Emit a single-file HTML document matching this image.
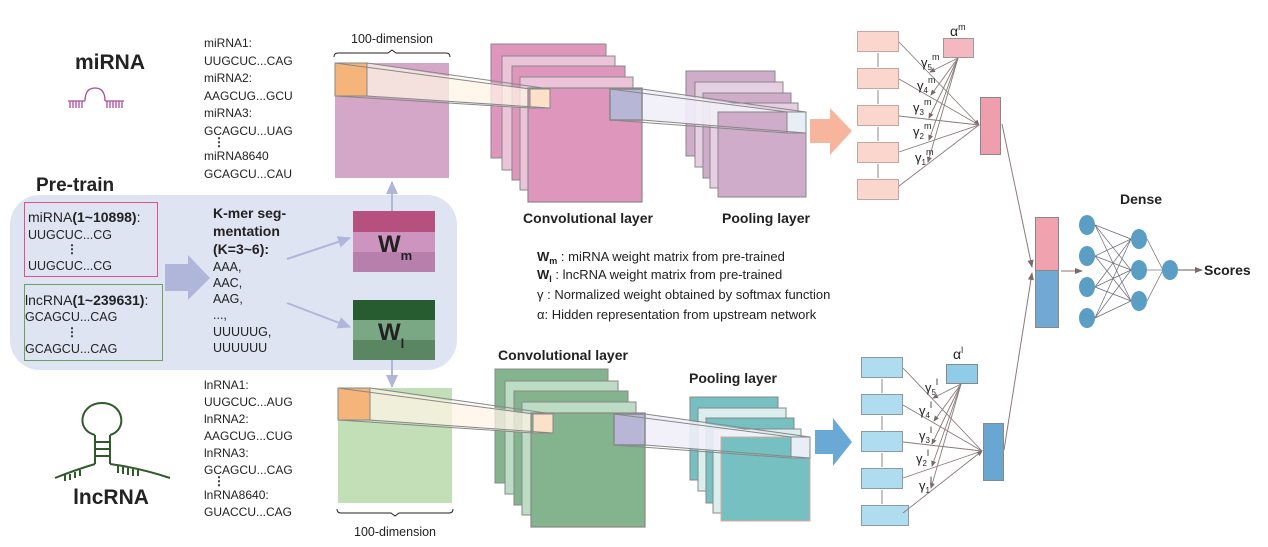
<!DOCTYPE html>
<html><head><meta charset="utf-8"><style>
html,body{margin:0;padding:0;background:#fff}
svg{display:block}
text{font-family:"Liberation Sans",Arial,sans-serif;fill:#222}
</style></head><body>
<svg width="1268" height="547" viewBox="0 0 1268 547" xmlns="http://www.w3.org/2000/svg">
<defs>
<marker id="ah" markerWidth="8" markerHeight="8" refX="7" refY="4" orient="auto" markerUnits="userSpaceOnUse"><path d="M0,1 L8,4 L0,7 z" fill="#7a6a6a"/></marker>
<marker id="ahs" markerWidth="6" markerHeight="6" refX="5" refY="3" orient="auto" markerUnits="userSpaceOnUse"><path d="M0,0.5 L6,3 L0,5.5 z" fill="#7a6a6a"/></marker>
<marker id="ab" markerWidth="14" markerHeight="14" refX="12" refY="7" orient="auto" markerUnits="userSpaceOnUse"><path d="M0,1 L13,7 L0,13 z" fill="#b0b6da"/></marker>
</defs>

<!-- miRNA title and icon -->
<text x="110" y="69" font-size="21" font-weight="bold" text-anchor="middle">miRNA</text>
<g stroke="#b04a9a" stroke-width="1.3" fill="none">
<path d="M68,101 H85 M105,101 H124"/>
<path d="M85,101 Q85,88 95,88 Q105,88 105,101"/>
<path d="M70,101v7 M73,101v7 M76,101v7 M79,101v7 M82,101v7 M107,101v7 M110,101v7 M113,101v7 M116,101v7 M119,101v7 M122,101v7"/>
</g>

<!-- sequence lists -->
<g font-size="12">
<text x="204" y="47">miRNA1:</text><text x="204" y="65">UUGCUC...CAG</text>
<text x="204" y="82">miRNA2:</text><text x="204" y="100">AAGCUG...GCU</text>
<text x="204" y="117">miRNA3:</text><text x="204" y="135">GCAGCU...UAG</text>
<text x="213" y="146" font-weight="bold">⋮</text>
<text x="204" y="160">miRNA8640</text><text x="204" y="178">GCAGCU...CAU</text>
<text x="204" y="389">lnRNA1:</text><text x="204" y="406">UUGCUC...AUG</text>
<text x="204" y="423">lnRNA2:</text><text x="204" y="440">AAGCUG...CUG</text>
<text x="204" y="457">lnRNA3:</text><text x="204" y="474">GCAGCU...CAG</text>
<text x="213" y="485" font-weight="bold">⋮</text>
<text x="204" y="499">lnRNA8640:</text><text x="204" y="516">GUACCU...CAG</text>
</g>

<!-- Pre-train panel -->
<text x="36" y="191" font-size="19" font-weight="bold">Pre-train</text>
<rect x="10" y="195" width="447" height="175" rx="30" fill="#dfe4f2"/>
<rect x="24.5" y="202.5" width="133" height="74" fill="none" stroke="#e0508a" stroke-width="1"/>
<rect x="24.5" y="284.5" width="138" height="76" fill="none" stroke="#6aa060" stroke-width="1"/>
<g font-size="14">
<text x="28" y="222">miRNA<tspan font-weight="bold">(1~10898)</tspan>:</text>
<text x="28" y="239" font-size="12.5">UUGCUC...CG</text>
<text x="66" y="253" font-weight="bold" font-size="12">⋮</text>
<text x="28" y="270" font-size="12.5">UUGCUC...CG</text>
<text x="25" y="305">lncRNA<tspan font-weight="bold">(1~239631)</tspan>:</text>
<text x="25" y="321" font-size="12.5">GCAGCU...CAG</text>
<text x="66" y="336" font-weight="bold" font-size="12">⋮</text>
<text x="25" y="353" font-size="12.5">GCAGCU...CAG</text>
</g>
<polygon points="165,264 188,264 188,255 210,278 188,300 188,291 165,291" fill="#b0b6da"/>
<g font-size="14" font-weight="bold">
<text x="213" y="218">K-mer seg-</text>
<text x="213" y="236">mentation</text>
<text x="213" y="254">(K=3~6):</text>
</g>
<g font-size="12.5">
<text x="213" y="271">AAA,</text><text x="213" y="287">AAC,</text><text x="213" y="303">AAG,</text>
<text x="213" y="319">...,</text><text x="213" y="336">UUUUUG,</text><text x="213" y="352">UUUUUU</text>
</g>
<line x1="287" y1="259" x2="350" y2="238" stroke="#b0b6da" stroke-width="2" marker-end="url(#ab)"/>
<line x1="287" y1="303" x2="350" y2="327" stroke="#b0b6da" stroke-width="2" marker-end="url(#ab)"/>
<rect x="353" y="211" width="82" height="21" fill="#b5507f"/>
<rect x="353" y="232" width="82" height="20" fill="#cd94bf"/>
<rect x="353" y="252" width="82" height="20" fill="#b77fac"/>
<text x="378" y="252" font-size="24" font-weight="bold" fill="#111">W<tspan font-size="13" dy="8">m</tspan></text>
<rect x="353" y="300" width="82" height="20" fill="#265c30"/>
<rect x="353" y="320" width="82" height="20" fill="#7aa884"/>
<rect x="353" y="340" width="82" height="20" fill="#5a8662"/>
<text x="378" y="340" font-size="24" font-weight="bold" fill="#111">W<tspan font-size="13" dy="8">l</tspan></text>
<line x1="392" y1="211" x2="392" y2="182" stroke="#b0b6da" stroke-width="2" marker-end="url(#ab)"/>
<line x1="392" y1="360" x2="392" y2="387" stroke="#b0b6da" stroke-width="2" marker-end="url(#ab)"/>

<!-- top embedding -->
<text x="392" y="43" font-size="12.5" text-anchor="middle">100-dimension</text>
<path d="M334,57 Q334,53 338,53 H388 L392,50 L396,53 H446 Q450,53 450,57" fill="none" stroke="#222" stroke-width="1"/>
<rect x="335" y="63" width="114" height="115" fill="#d4a6c8"/>
<!-- top conv -->
<rect x="491" y="44" width="115" height="114" fill="#df96bd" stroke="#888"/>
<rect x="502" y="56" width="113" height="114" fill="#ecc4da" stroke="#888"/>
<rect x="512" y="66" width="113" height="114" fill="#df96bd" stroke="#888"/>
<rect x="520" y="77" width="113" height="113" fill="#ecc4da" stroke="#888"/>
<polygon points="367,63 530,89 530,108 367,96" fill="#fff4e6" opacity="0.75"/>
<rect x="528" y="88" width="114" height="114" fill="#df96bd" stroke="#888" stroke-width="1.2"/>
<rect x="335" y="63" width="32" height="33" fill="#f4b47a" stroke="#888"/>
<rect x="530" y="89" width="20" height="19" fill="#fde0c8" stroke="#888"/>
<g stroke="#888" fill="none"><line x1="335" y1="63" x2="530" y2="89"/><line x1="367" y1="63" x2="550" y2="89"/><line x1="335" y1="96" x2="530" y2="108"/><line x1="367" y1="96" x2="550" y2="108"/></g>
<!-- top pool -->
<rect x="686" y="71" width="89" height="85" fill="#cfacca" stroke="#888"/>
<rect x="695" y="82" width="88" height="85" fill="#e6cfe2" stroke="#888"/>
<rect x="703" y="93" width="88" height="85" fill="#cfacca" stroke="#888"/>
<rect x="710" y="103" width="88" height="85" fill="#e6cfe2" stroke="#888"/>
<polygon points="642,89 787,112 787,133 642,120" fill="#f1eff8" opacity="0.9"/>
<rect x="718" y="112" width="88" height="85" fill="#cfacca" stroke="#888"/>
<rect x="610" y="89" width="32" height="31" fill="#b7b6d6" stroke="#888" stroke-width="1.5"/>
<rect x="787" y="112" width="19" height="21" fill="#e8eef6" stroke="#888"/>
<g stroke="#888" fill="none"><line x1="610" y1="89" x2="787" y2="112"/><line x1="642" y1="89" x2="806" y2="112"/><line x1="610" y1="120" x2="787" y2="133"/><line x1="642" y1="120" x2="806" y2="133"/></g>
<text x="588" y="223" font-size="14" font-weight="bold" text-anchor="middle">Convolutional layer</text>
<text x="766" y="223" font-size="14" font-weight="bold" text-anchor="middle">Pooling layer</text>
<polygon points="810,119 830,119 830,108 852,131 830,155 830,143 810,143" fill="#f8b59e"/>

<!-- bottom embedding -->
<rect x="338" y="388" width="114" height="115" fill="#c2dfb8"/>
<path d="M337,509 Q337,513 341,513 H391 L395,516 L399,513 H449 Q453,513 453,509" fill="none" stroke="#222" stroke-width="1"/>
<text x="395" y="536" font-size="12.5" text-anchor="middle">100-dimension</text>
<rect x="495" y="369" width="113" height="114" fill="#84b48e" stroke="#888"/>
<rect x="505" y="381" width="113" height="113" fill="#bcdcc4" stroke="#888"/>
<rect x="514" y="391" width="114" height="114" fill="#84b48e" stroke="#888"/>
<rect x="522" y="402" width="114" height="113" fill="#bcdcc4" stroke="#888"/>
<polygon points="370,388 533,414 533,433 370,420" fill="#fff4e6" opacity="0.75"/>
<rect x="531" y="413" width="114" height="114" fill="#84b48e" stroke="#888" stroke-width="1.2"/>
<rect x="338" y="388" width="32" height="32" fill="#f4b47a" stroke="#888"/>
<rect x="533" y="414" width="20" height="19" fill="#fde0c8" stroke="#888"/>
<g stroke="#888" fill="none"><line x1="338" y1="388" x2="533" y2="414"/><line x1="370" y1="388" x2="553" y2="414"/><line x1="338" y1="420" x2="533" y2="433"/><line x1="370" y1="420" x2="553" y2="433"/></g>
<rect x="690" y="397" width="88" height="83" fill="#76c0c2" stroke="#888"/>
<rect x="698" y="408" width="88" height="83" fill="#dbeeee" stroke="#888"/>
<rect x="706" y="418" width="88" height="85" fill="#76c0c2" stroke="#888"/>
<rect x="713" y="429" width="88" height="84" fill="#dbeeee" stroke="#888"/>
<polygon points="645,414 791,437 791,458 645,445" fill="#f1eff8" opacity="0.9"/>
<rect x="721" y="437" width="89" height="84" fill="#76c0c2" stroke="#d9a89a"/>
<rect x="614" y="414" width="31" height="31" fill="#b7b6d6" stroke="#888" stroke-width="1.5"/>
<rect x="791" y="437" width="19" height="21" fill="#e8eef6" stroke="#888"/>
<g stroke="#888" fill="none"><line x1="614" y1="414" x2="791" y2="437"/><line x1="645" y1="414" x2="810" y2="437"/><line x1="614" y1="445" x2="791" y2="458"/><line x1="645" y1="445" x2="810" y2="458"/></g>
<text x="563" y="360" font-size="14" font-weight="bold" text-anchor="middle">Convolutional layer</text>
<text x="733" y="383" font-size="14" font-weight="bold" text-anchor="middle">Pooling layer</text>
<polygon points="815,430 833,430 833,418 852,442 833,466 833,454 815,454" fill="#6aa9d6"/>

<!-- lncRNA icon -->
<g stroke="#2f5a2a" stroke-width="2" fill="none">
<path d="M95,435 C75,430 80,403 102,403 C124,403 128,430 110,435"/>
<path d="M95,435 V464 M110,435 V464 M95,442 H110 M95,449 H110 M95,456 H110"/>
<path d="M55,478 Q75,470 95,464 M110,464 Q140,468 170,478"/>
<path d="M65,475v6 M70,474v6 M75,472v6 M80,470v6 M118,466v7 M123,467v7 M128,468v7 M133,469v7 M138,470v6"/>
</g>
<text x="111" y="504" font-size="21" font-weight="bold" text-anchor="middle">lncRNA</text>

<!-- legend -->
<g font-size="13">
<text x="537" y="261"><tspan font-weight="bold">W</tspan><tspan font-size="9" dy="3" font-weight="bold">m</tspan><tspan dy="-3"> : miRNA weight matrix from pre-trained</tspan></text>
<text x="537" y="279"><tspan font-weight="bold">W</tspan><tspan font-size="9" dy="3" font-weight="bold">l</tspan><tspan dy="-3"> : lncRNA weight matrix from pre-trained</tspan></text>
<text x="537" y="299">γ : Normalized weight obtained by softmax function</text>
<text x="537" y="319">α: Hidden representation from upstream network</text>
</g>

<!-- top attention -->
<g fill="#fbd6cc" stroke="#c8a6a0">
<rect x="857.5" y="31.5" width="41" height="20"/><rect x="857.5" y="68.5" width="41" height="20"/>
<rect x="857.5" y="105.5" width="41" height="20"/><rect x="857.5" y="142.5" width="41" height="20"/>
<rect x="857.5" y="179.5" width="41" height="20"/>
</g>
<rect x="943.5" y="38.5" width="30" height="19" fill="#f5b8c0" stroke="#999"/>
<rect x="980.5" y="97.5" width="20" height="57" fill="#ee9eac" stroke="#888"/>
<text x="950" y="36" font-size="14">α<tspan font-size="9" dy="-6">m</tspan></text>
<g stroke="#8a7a7a" stroke-width="0.9" fill="none">
<path d="M878,53v14 M878,90v14 M878,127v14 M878,164v14"/>
<line x1="899" y1="42" x2="979" y2="125" marker-end="url(#ahs)"/>
<line x1="899" y1="79" x2="979" y2="125"/>
<line x1="899" y1="116" x2="979" y2="125"/>
<line x1="899" y1="152" x2="979" y2="125"/>
<line x1="899" y1="186" x2="979" y2="125"/>
<line x1="958" y1="58" x2="930" y2="72" marker-end="url(#ahs)"/>
<line x1="958" y1="58" x2="931" y2="95" marker-end="url(#ahs)"/>
<line x1="958" y1="58" x2="929" y2="118" marker-end="url(#ahs)"/>
<line x1="958" y1="58" x2="929" y2="140" marker-end="url(#ahs)"/>
<line x1="958" y1="58" x2="928" y2="162" marker-end="url(#ahs)"/>
</g>
<g font-size="13" font-family="Liberation Serif">
<text x="921" y="67">γ<tspan font-size="8" dy="3">5</tspan><tspan font-size="9" dy="-10">m</tspan></text>
<text x="917" y="90">γ<tspan font-size="8" dy="3">4</tspan><tspan font-size="9" dy="-10">m</tspan></text>
<text x="913" y="112">γ<tspan font-size="8" dy="3">3</tspan><tspan font-size="9" dy="-10">m</tspan></text>
<text x="913" y="136">γ<tspan font-size="8" dy="3">2</tspan><tspan font-size="9" dy="-10">m</tspan></text>
<text x="915" y="162">γ<tspan font-size="8" dy="3">1</tspan><tspan font-size="9" dy="-10">m</tspan></text>
</g>

<!-- bottom attention -->
<g fill="#b0dcf0" stroke="#8a9aa6">
<rect x="861.5" y="357.5" width="41" height="20"/><rect x="861.5" y="394.5" width="41" height="20"/>
<rect x="861.5" y="431.5" width="41" height="20"/><rect x="861.5" y="468.5" width="41" height="20"/>
<rect x="861.5" y="505.5" width="47" height="20"/>
</g>
<rect x="946.5" y="364.5" width="31" height="19" fill="#8ecce8" stroke="#888"/>
<rect x="983.5" y="423.5" width="20" height="57" fill="#6aa6d2" stroke="#888"/>
<text x="953" y="359" font-size="14">α<tspan font-size="9" dy="-6">l</tspan></text>
<g stroke="#8a7a7a" stroke-width="0.9" fill="none">
<path d="M882,379v14 M882,416v14 M882,453v14 M882,490v14"/>
<line x1="903" y1="368" x2="982" y2="451"/>
<line x1="903" y1="405" x2="982" y2="451"/>
<line x1="903" y1="442" x2="982" y2="451"/>
<line x1="903" y1="478" x2="982" y2="451"/>
<line x1="903" y1="513" x2="982" y2="451" marker-end="url(#ahs)"/>
<line x1="961" y1="384" x2="933" y2="398" marker-end="url(#ahs)"/>
<line x1="961" y1="384" x2="934" y2="421" marker-end="url(#ahs)"/>
<line x1="961" y1="384" x2="932" y2="444" marker-end="url(#ahs)"/>
<line x1="961" y1="384" x2="932" y2="466" marker-end="url(#ahs)"/>
<line x1="961" y1="384" x2="931" y2="488" marker-end="url(#ahs)"/>
</g>
<g font-size="13" font-family="Liberation Serif">
<text x="925" y="392">γ<tspan font-size="8" dy="3">5</tspan><tspan font-size="9" dy="-10">l</tspan></text>
<text x="919" y="415">γ<tspan font-size="8" dy="3">4</tspan><tspan font-size="9" dy="-10">l</tspan></text>
<text x="919" y="440">γ<tspan font-size="8" dy="3">3</tspan><tspan font-size="9" dy="-10">l</tspan></text>
<text x="916" y="463">γ<tspan font-size="8" dy="3">2</tspan><tspan font-size="9" dy="-10">l</tspan></text>
<text x="919" y="490">γ<tspan font-size="8" dy="3">1</tspan><tspan font-size="9" dy="-10">l</tspan></text>
</g>

<!-- concat -->
<line x1="1002" y1="124" x2="1032" y2="267" stroke="#8a7a7a" stroke-width="1" marker-end="url(#ah)"/>
<line x1="1004" y1="450" x2="1032" y2="273" stroke="#8a7a7a" stroke-width="1" marker-end="url(#ah)"/>
<rect x="1035.5" y="217.5" width="23" height="53" fill="#f0a2ae" stroke="#888"/>
<rect x="1035.5" y="270.5" width="23" height="57" fill="#72a8d4" stroke="#888"/>
<line x1="1061" y1="271" x2="1082" y2="271" stroke="#8a7a7a" stroke-width="1" marker-end="url(#ah)"/>

<!-- dense -->
<text x="1120" y="204" font-size="14" font-weight="bold">Dense</text>
<g stroke="#6a6a7a" stroke-width="0.7">
<line x1="1095" y1="225" x2="1131" y2="239"/><line x1="1095" y1="225" x2="1131" y2="270"/><line x1="1095" y1="225" x2="1131" y2="301"/>
<line x1="1095" y1="256" x2="1131" y2="239"/><line x1="1095" y1="256" x2="1131" y2="270"/><line x1="1095" y1="256" x2="1131" y2="301"/>
<line x1="1095" y1="287" x2="1131" y2="239"/><line x1="1095" y1="287" x2="1131" y2="270"/><line x1="1095" y1="287" x2="1131" y2="301"/>
<line x1="1095" y1="318" x2="1131" y2="239"/><line x1="1095" y1="318" x2="1131" y2="270"/><line x1="1095" y1="318" x2="1131" y2="301"/>
<line x1="1147" y1="239" x2="1163" y2="270"/><line x1="1147" y1="270" x2="1163" y2="270"/><line x1="1147" y1="301" x2="1163" y2="270"/>
</g>
<g fill="#5a9ec4">
<ellipse cx="1087" cy="225" rx="8" ry="10"/><ellipse cx="1087" cy="256" rx="8" ry="10"/>
<ellipse cx="1087" cy="287" rx="8" ry="10"/><ellipse cx="1087" cy="318" rx="8" ry="10"/>
<ellipse cx="1139" cy="239" rx="8" ry="10"/><ellipse cx="1139" cy="270" rx="8" ry="10"/>
<ellipse cx="1139" cy="301" rx="8" ry="10"/><ellipse cx="1170" cy="270" rx="8" ry="10"/>
</g>
<line x1="1178" y1="270" x2="1202" y2="270" stroke="#8a7a7a" stroke-width="1.2" marker-end="url(#ah)"/>
<text x="1204" y="275" font-size="14" font-weight="bold">Scores</text>
</svg>
</body></html>
